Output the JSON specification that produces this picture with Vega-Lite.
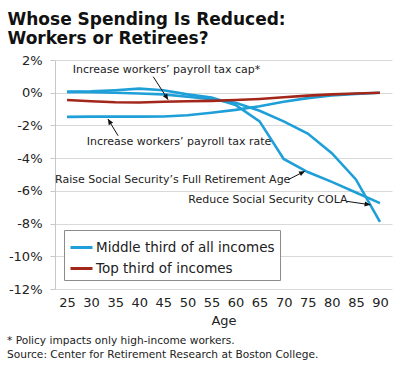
{
  "$schema": "https://vega.github.io/schema/vega-lite/v6.json",
  "width": 337,
  "height": 229,
  "autosize": {"type": "none"},
  "padding": {"left": 55, "top": 60, "right": 8, "bottom": 79},
  "background": "white",
  "config": {"font": "DejaVu Sans", "view": {"stroke": null}, "axis": {"labelOverlap": false}, "axisX": {"labelOverlap": false}, "axisY": {"labelOverlap": false}},
  "title": {
    "text": ["* Policy impacts only high-income workers.", "Source: Center for Retirement Research at Boston College."],
    "orient": "bottom",
    "anchor": "start",
    "frame": "bounds",
    "fontSize": 10.6,
    "fontWeight": "normal",
    "lineHeight": 13.5,
    "color": "#222222",
    "offset": 9
  },
  "datasets": {
    "lines": [
      {"policy": "Full Retirement Age", "group": "Middle third of all incomes", "age": 25, "value": 0.05},
      {"policy": "Full Retirement Age", "group": "Middle third of all incomes", "age": 30, "value": 0.08},
      {"policy": "Full Retirement Age", "group": "Middle third of all incomes", "age": 35, "value": 0.15},
      {"policy": "Full Retirement Age", "group": "Middle third of all incomes", "age": 40, "value": 0.25},
      {"policy": "Full Retirement Age", "group": "Middle third of all incomes", "age": 45, "value": 0.15},
      {"policy": "Full Retirement Age", "group": "Middle third of all incomes", "age": 50, "value": -0.1},
      {"policy": "Full Retirement Age", "group": "Middle third of all incomes", "age": 55, "value": -0.3},
      {"policy": "Full Retirement Age", "group": "Middle third of all incomes", "age": 60, "value": -0.75},
      {"policy": "Full Retirement Age", "group": "Middle third of all incomes", "age": 65, "value": -1.75},
      {"policy": "Full Retirement Age", "group": "Middle third of all incomes", "age": 70, "value": -4.05},
      {"policy": "Full Retirement Age", "group": "Middle third of all incomes", "age": 75, "value": -4.85},
      {"policy": "Full Retirement Age", "group": "Middle third of all incomes", "age": 80, "value": -5.45},
      {"policy": "Full Retirement Age", "group": "Middle third of all incomes", "age": 85, "value": -6.1},
      {"policy": "Full Retirement Age", "group": "Middle third of all incomes", "age": 90, "value": -6.75},
      {"policy": "COLA", "group": "Middle third of all incomes", "age": 25, "value": 0.05},
      {"policy": "COLA", "group": "Middle third of all incomes", "age": 30, "value": 0.03},
      {"policy": "COLA", "group": "Middle third of all incomes", "age": 35, "value": 0.0},
      {"policy": "COLA", "group": "Middle third of all incomes", "age": 40, "value": -0.05},
      {"policy": "COLA", "group": "Middle third of all incomes", "age": 45, "value": -0.1},
      {"policy": "COLA", "group": "Middle third of all incomes", "age": 50, "value": -0.25},
      {"policy": "COLA", "group": "Middle third of all incomes", "age": 55, "value": -0.4},
      {"policy": "COLA", "group": "Middle third of all incomes", "age": 60, "value": -0.62},
      {"policy": "COLA", "group": "Middle third of all incomes", "age": 65, "value": -1.1},
      {"policy": "COLA", "group": "Middle third of all incomes", "age": 70, "value": -1.75},
      {"policy": "COLA", "group": "Middle third of all incomes", "age": 75, "value": -2.5},
      {"policy": "COLA", "group": "Middle third of all incomes", "age": 80, "value": -3.7},
      {"policy": "COLA", "group": "Middle third of all incomes", "age": 85, "value": -5.3},
      {"policy": "COLA", "group": "Middle third of all incomes", "age": 90, "value": -7.9},
      {"policy": "Payroll tax rate", "group": "Middle third of all incomes", "age": 25, "value": -1.48},
      {"policy": "Payroll tax rate", "group": "Middle third of all incomes", "age": 30, "value": -1.46},
      {"policy": "Payroll tax rate", "group": "Middle third of all incomes", "age": 35, "value": -1.46},
      {"policy": "Payroll tax rate", "group": "Middle third of all incomes", "age": 40, "value": -1.46},
      {"policy": "Payroll tax rate", "group": "Middle third of all incomes", "age": 45, "value": -1.45},
      {"policy": "Payroll tax rate", "group": "Middle third of all incomes", "age": 50, "value": -1.38},
      {"policy": "Payroll tax rate", "group": "Middle third of all incomes", "age": 55, "value": -1.22},
      {"policy": "Payroll tax rate", "group": "Middle third of all incomes", "age": 60, "value": -1.05},
      {"policy": "Payroll tax rate", "group": "Middle third of all incomes", "age": 65, "value": -0.83},
      {"policy": "Payroll tax rate", "group": "Middle third of all incomes", "age": 70, "value": -0.55},
      {"policy": "Payroll tax rate", "group": "Middle third of all incomes", "age": 75, "value": -0.33},
      {"policy": "Payroll tax rate", "group": "Middle third of all incomes", "age": 80, "value": -0.17},
      {"policy": "Payroll tax rate", "group": "Middle third of all incomes", "age": 85, "value": -0.07},
      {"policy": "Payroll tax rate", "group": "Middle third of all incomes", "age": 90, "value": 0.0},
      {"policy": "Payroll tax cap", "group": "Top third of incomes", "age": 25, "value": -0.45},
      {"policy": "Payroll tax cap", "group": "Top third of incomes", "age": 30, "value": -0.52},
      {"policy": "Payroll tax cap", "group": "Top third of incomes", "age": 35, "value": -0.58},
      {"policy": "Payroll tax cap", "group": "Top third of incomes", "age": 40, "value": -0.6},
      {"policy": "Payroll tax cap", "group": "Top third of incomes", "age": 45, "value": -0.55},
      {"policy": "Payroll tax cap", "group": "Top third of incomes", "age": 50, "value": -0.52},
      {"policy": "Payroll tax cap", "group": "Top third of incomes", "age": 55, "value": -0.5},
      {"policy": "Payroll tax cap", "group": "Top third of incomes", "age": 60, "value": -0.45},
      {"policy": "Payroll tax cap", "group": "Top third of incomes", "age": 65, "value": -0.38},
      {"policy": "Payroll tax cap", "group": "Top third of incomes", "age": 70, "value": -0.28},
      {"policy": "Payroll tax cap", "group": "Top third of incomes", "age": 75, "value": -0.18},
      {"policy": "Payroll tax cap", "group": "Top third of incomes", "age": 80, "value": -0.1},
      {"policy": "Payroll tax cap", "group": "Top third of incomes", "age": 85, "value": -0.05},
      {"policy": "Payroll tax cap", "group": "Top third of incomes", "age": 90, "value": 0.0}
    ],
    "notes": [
      {"label": "Increase workers’ payroll tax cap*", "age": 26.2, "value": 1.36},
      {"label": "Increase workers’ payroll tax rate", "age": 29.1, "value": -3.04},
      {"label": "Raise Social Security’s Full Retirement Age", "age": 22.5, "value": -5.32},
      {"label": "Reduce Social Security COLA", "age": 50.2, "value": -6.54}
    ],
    "arrows": [
      {"tailAge": 42.9, "tailValue": 0.98, "age": 46.0, "value": -0.43},
      {"tailAge": 35.6, "tailValue": -2.63, "age": 33.5, "value": -1.61},
      {"tailAge": 70.9, "tailValue": -5.32, "age": 74.4, "value": -4.8},
      {"tailAge": 83.1, "tailValue": -6.64, "age": 88.0, "value": -6.85}
    ]
  },
  "encoding": {
    "x": {
      "field": "age", "type": "quantitative",
      "scale": {"domain": [22.5, 92.5], "nice": false, "zero": false},
      "axis": {
        "values": [25, 30, 35, 40, 45, 50, 55, 60, 65, 70, 75, 80, 85, 90],
        "labelOverlap": false,
        "grid": false, "domain": false, "ticks": false,
        "labelFontSize": 13, "labelPadding": 7, "labelColor": "#222222",
        "title": "Age", "titleFontSize": 13, "titleFontWeight": "normal", "titleColor": "#222222", "titlePadding": 5
      }
    },
    "y": {
      "field": "value", "type": "quantitative",
      "scale": {"domain": [-12, 2], "nice": false},
      "axis": {
        "values": [-12, -10, -8, -6, -4, -2, 0, 2],
        "labelOverlap": false,
        "labelExpr": "datum.value + '%'",
        "grid": true, "gridColor": "#d9d9d9", "domainColor": "#c8c8c8",
        "ticks": true, "tickSize": 5, "tickColor": "#c8c8c8",
        "labelFontSize": 13, "labelPadding": 8, "labelColor": "#222222",
        "title": ["Whose Spending Is Reduced:", "Workers or Retirees?"],
        "titleAngle": 0, "titleAlign": "left", "titleBaseline": "alphabetic",
        "titleX": -48, "titleY": -36, "titleFontSize": 17, "titleFontWeight": "bold",
        "titleLineHeight": 19.5, "titleColor": "#111111"
      }
    }
  },
  "layer": [
    {
      "data": {"name": "lines"},
      "mark": {"type": "line", "strokeWidth": 2.6},
      "encoding": {
        "color": {
          "field": "group", "type": "nominal",
          "scale": {"domain": ["Middle third of all incomes", "Top third of incomes"], "range": ["#1F9FD8", "#A3261B"]},
          "legend": {
            "title": null, "orient": "bottom-left", "offset": 9,
            "strokeColor": "#8c8c8c", "fillColor": "white", "padding": 5,
            "symbolType": "stroke", "symbolSize": 484, "symbolStrokeWidth": 3,
            "labelFontSize": 13.5, "labelOffset": 2, "labelColor": "#222222", "labelLimit": 400, "rowPadding": 2
          }
        },
        "detail": {"field": "policy"}
      }
    },
    {
      "data": {"name": "notes"},
      "mark": {"type": "text", "align": "left", "baseline": "middle", "fontSize": 11, "color": "#222222"},
      "encoding": {
        "text": {"field": "label"}
      }
    },
    {
      "data": {"name": "arrows"},
      "mark": {"type": "rule", "color": "#111111", "strokeWidth": 1},
      "encoding": {
        "x2": {"field": "tailAge"},
        "y2": {"field": "tailValue"}
      }
    },
    {
      "data": {"name": "arrows"},
      "transform": [
        {"calculate": "atan2(-(datum.value - datum.tailValue) * 16.36, (datum.age - datum.tailAge) * 4.814) * 180 / PI", "as": "angle"}
      ],
      "mark": {"type": "point", "shape": "M0,0L-1,-0.45L-1,0.45Z", "filled": true, "color": "#111111", "size": 130, "opacity": 1},
      "encoding": {
        "angle": {"field": "angle", "type": "quantitative", "scale": null}
      }
    }
  ]
}
